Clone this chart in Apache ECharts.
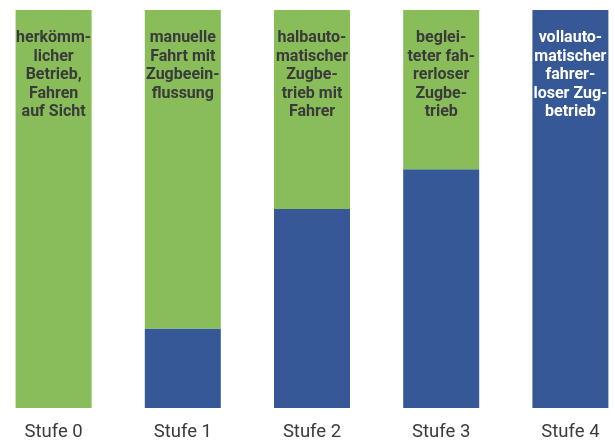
<!DOCTYPE html>
<html>
<head>
<meta charset="utf-8">
<script src="https://cdn.jsdelivr.net/npm/echarts@6/dist/echarts.min.js"></script>
<style>
  html, body { margin: 0; padding: 0; background: #fff; }
  #chart { width: 615px; height: 441px; }
</style>
</head>
<body>
<div id="chart"></div>
<script>
// Daten
var stufen = ['Stufe 0', 'Stufe 1', 'Stufe 2', 'Stufe 3', 'Stufe 4']
var automatisiert = [0, 20, 50, 60, 100]   // blau
var manuell = [100, 80, 50, 40, 0]         // grün
var beschreibung = [
  'herkömm-\nlicher\nBetrieb,\nFahren\nauf Sicht',
  'manuelle\nFahrt mit\nZugbeein-\nflussung',
  'halbauto-\nmatischer\nZugbe-\ntrieb mit\nFahrer',
  'beglei-\nteter fah-\nrerloser\nZugbe-\ntrieb',
  'vollauto-\nmatischer\nfahrer-\nloser Zug-\nbetrieb'
]

var GREEN = '#88bd5a'
var BLUE = '#365896'

var labelBase = {
  show: true,
  position: 'insideTop',
  distance: 19,
  fontFamily: 'Roboto',
  fontWeight: 'bold',
  fontSize: 16,
  lineHeight: 18.5,
  align: 'center'
}

// Beschriftung kommt an das oberste Segment jeder Säule
function buildData(values, isTop, color) {
  return values.map(function(v, i) {
    var item = { value: v }
    if (isTop(i)) {
      item.label = Object.assign({}, labelBase, {
        formatter: beschreibung[i],
        color: color
      })
    }
    return item
  })
}

var chart = echarts.init(document.getElementById('chart'))
chart.setOption({
  animation: false,
  grid: { left: -11, right: -20, top: 10, bottom: 33, outerBoundsMode: 'none' },
  xAxis: {
    type: 'category',
    data: stufen,
    axisLine: { show: false },
    axisTick: { show: false },
    axisLabel: {
      margin: 15,
      fontFamily: 'Roboto',
      fontSize: 18.5,
      color: '#3a3a3a'
    }
  },
  yAxis: {
    type: 'value',
    min: 0,
    max: 100,
    show: false,
    splitLine: { show: false }
  },
  series: [
    {
      name: 'automatisiert',
      type: 'bar',
      stack: 'gesamt',
      barWidth: 76,
      itemStyle: { color: BLUE },
      data: buildData(automatisiert, function(i) { return manuell[i] === 0 }, '#ffffff')
    },
    {
      name: 'manuell',
      type: 'bar',
      stack: 'gesamt',
      barWidth: 76,
      itemStyle: { color: GREEN },
      data: buildData(manuell, function(i) { return manuell[i] > 0 }, '#3a3a3a')
    }
  ]
})
</script>
</body>
</html>
